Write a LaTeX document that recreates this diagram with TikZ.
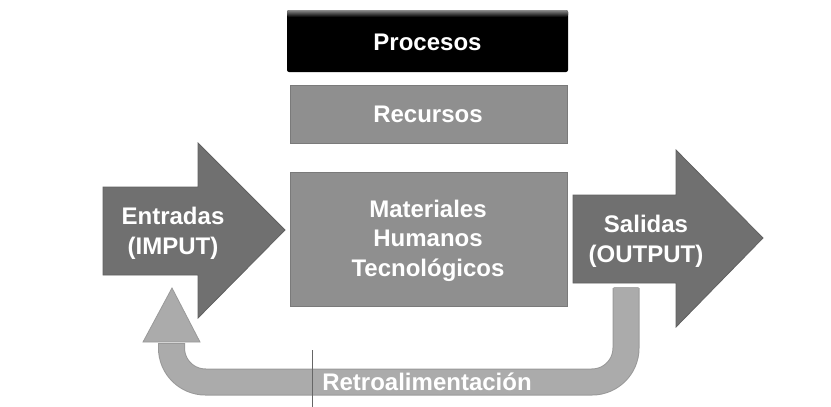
\documentclass[tikz,border=0pt]{standalone}
\usepackage{fontspec}
\setmainfont{Liberation Sans}
\begin{document}
\begin{tikzpicture}[x=1pt,y=-1pt,
  lbl/.style={text=white,font=\fontsize{24}{29.5}\selectfont\bfseries,align=center,inner sep=0pt},
  boxgray/.style={fill=black!44,draw=black!52,line width=1pt},
  arrowdark/.style={fill=black!56,draw=black!62,line width=0.8pt}]
\useasboundingbox (0,0) rectangle (831,407);
% Procesos
\fill[black,rounded corners=2pt] (287,10) rectangle (568,72);
\shade[top color=black!45,bottom color=black,rounded corners=2pt] (287,10) rectangle (568,17);
\node[lbl,anchor=base] (procesos) at (427.5,50) {Procesos};
% Recursos
\draw[boxgray] (290,85) rectangle (567,143);
\node[lbl,anchor=base] (recursos) at (428,122) {Recursos};
% Materiales
\draw[boxgray] (290,172) rectangle (567,306);
\node[lbl,anchor=base] (mat) at (428,276) {Materiales\\Humanos\\Tecnológicos};
% Entradas arrow
\draw[arrowdark] (103,187) -- (198,187) -- (198,143) -- (285,230) -- (198,318) -- (198,275) -- (103,275) -- cycle;
\node[lbl,anchor=base] (entradas) at (173,254) {Entradas\\(IMPUT)};
% Salidas arrow
\draw[arrowdark] (573,195) -- (676,195) -- (676,150) -- (763,238) -- (676,327) -- (676,283) -- (573,283) -- cycle;
\node[lbl,anchor=base] (salidas) at (646,262) {Salidas\\(OUTPUT)};
% Feedback arrow
\coordinate (fbstart) at (626,288);
\coordinate (fbend) at (171.5,343);
\draw[black!40,line width=27pt,rounded corners=34pt] (fbstart) -- (626,382) -- (171.5,382) -- (fbend);
\draw[black!33,line width=25pt,rounded corners=34pt] ([yshift=1pt]fbstart) -- (626,382) -- (171.5,382) -- ([yshift=-1pt]fbend);
\draw[fill=black!33,draw=black!40,line width=0.8pt] (143,342) -- (172,288) -- (200,342) -- cycle;
\node[lbl,anchor=base] (retro) at (427,390) {Retroalimentación};
% thin vertical line
\draw[black!60,line width=0.8pt] (312.5,350) -- (312.5,407);
\end{tikzpicture}
\end{document}
